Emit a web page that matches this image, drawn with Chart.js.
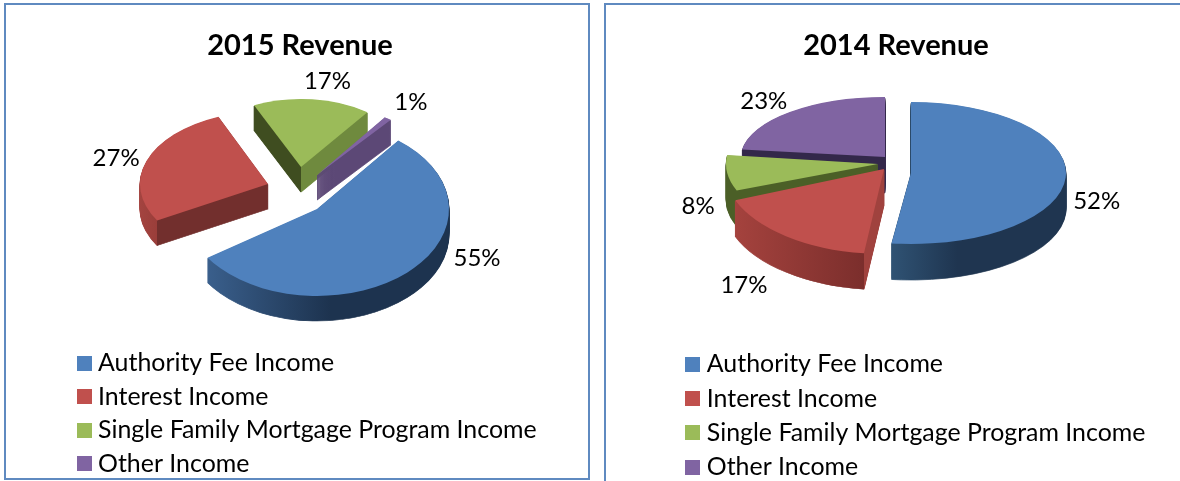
<!DOCTYPE html>
<html>
<head>
<meta charset="utf-8">
<script src="https://cdn.jsdelivr.net/npm/chart.js@4"></script>
<style>
html,body{margin:0;padding:0;background:#fff;overflow:hidden;width:1180px;height:481px}
.panel{position:absolute;box-sizing:border-box;border:2px solid #5f8ac0}
#panel1{left:4px;top:3px;width:586px;height:477px}
#panel2{left:604px;top:3px;width:600px;height:500px}
canvas{position:absolute;top:0}
#myChart1{left:0}
#myChart2{left:606px}
</style>
</head>
<body>
<div class="panel" id="panel1"></div>
<div class="panel" id="panel2"></div>
<canvas id="myChart1" width="600" height="500"></canvas>
<canvas id="myChart2" width="580" height="500"></canvas>
<script>
//DATA
const categories = ["Authority Fee Income","Interest Income","Single Family Mortgage Program Income","Other Income"];
const values2015 = [55,27,17,1];
const values2014 = [52,17,8,23];
const colors = ["#4f81bd","#c0504d","#9bbb59","#8064a2"];

//each slice: where its point sits, its radii, small turn, wall colours, and label shift from the rim
const look2015 = {
    rotation:38, depth:25, order:[2,3,1,0],
    slices:[
        {x:317,y:209,rx:132,ry:87,turn:0,lx:70,ly:-14,wall:[[0,"#3f6797"],[.55,"#1d334f"],[1,"#1d334f"]]},
        {x:268,y:184,rx:128,ry:73,turn:4,lx:-28,ly:-7,wall:[[0,"#a44440"],[.085,"#9a3e3a"],[.085,"#722f2d"],[1,"#722f2d"]]},
        {x:301,y:167,rx:112,ry:68,turn:2,lx:19,ly:-18,wall:[[0,"#3f4d20"],[.5,"#3f4d20"],[.5,"#6f8a3e"],[1,"#6f8a3e"]]},
        {x:317,y:175,rx:120,ry:70,turn:0,lx:23,ly:-16,wall:[[0,"#5c4876"],[1,"#5c4876"]]}
    ]
};
const look2014 = {
    rotation:0, depth:36, order:[3,2,1,0],
    slices:[
        {x:305,y:173,rx:155,ry:71,turn:0,lx:31,ly:24,wall:[[0,"#2f5273"],[.44,"#2f5273"],[.65,"#1f3550"],[1,"#1f3550"]]},
        {x:278,y:169,rx:160,ry:85,turn:0,lx:-42,ly:49,wall:[[0,"#a8443f"],[.4375,"#7b2e2c"],[.4375,"#a0423e"],[1,"#a0423e"]]},
        {x:272,y:164,rx:152,ry:72,turn:0,lx:-29,ly:33,wall:[[0,"#4b5f27"],[1,"#4b5f27"]]},
        {x:279,y:157,rx:144,ry:60,turn:0,lx:-26,ly:-11,wall:[[0,"#33284a"],[1,"#33284a"]]}
    ]
};

// legend square, wider than chart.js lets a plain box be next to the text
function swatch(color){
    var c = document.createElement("canvas");
    c.width = 15; c.height = 15;
    var g = c.getContext("2d");
    g.fillStyle = color;
    g.fillRect(0,0,15,15);
    return c;
}

// fake 3D: squash each arc into its own ellipse, stack dark copies under it
function pie3d(look, values){
    return {
        id:"pie3d",
        afterLayout(chart){
            // title centres on the whole canvas, not on the padded box
            chart.titleBlock.left = 0;
            chart.titleBlock.right = chart.width;
        },
        beforeDatasetDraw(chart){
            var ctx = chart.ctx;
            var arcs = chart.getDatasetMeta(0).data;
            look.order.forEach(function(i){
                var arc = arcs[i], s = look.slices[i], R = arc.outerRadius;
                var grad = ctx.createLinearGradient(arc.x-R,0,arc.x+R,0);
                s.wall.forEach(function(w){ grad.addColorStop(w[0],w[1]); });
                var wall = Object.create(arc,{options:{value:{...arc.options,backgroundColor:grad,borderColor:grad,borderWidth:R/s.rx}}});
                for(var d=look.depth;d>=0;d--){
                    ctx.save();
                    ctx.translate(s.x,s.y+d);
                    ctx.scale(s.rx/R,s.ry/R);
                    ctx.rotate(s.turn*Math.PI/180);
                    ctx.translate(-arc.x,-arc.y);
                    (d>0 ? wall : arc).draw(ctx);
                    ctx.restore();
                }
            });
            ctx.save();
            ctx.font = "24px Lato";
            ctx.fillStyle = "#000";
            ctx.textAlign = "center";
            ctx.textBaseline = "middle";
            arcs.forEach(function(arc,i){
                var s = look.slices[i], mid = (arc.startAngle+arc.endAngle)/2;
                ctx.fillText(values[i]+"%", s.x+Math.cos(mid)*s.rx+s.lx, s.y+Math.sin(mid)*s.ry+s.ly);
            });
            ctx.restore();
            return false;
        }
    };
}

function makeChart(id, title, values, look, legendLeft, legendBottom, rowGap){
    return new Chart(document.getElementById(id).getContext("2d"),{
        type:"pie",
        data:{
            labels:categories,
            datasets:[{data:values,backgroundColor:colors,borderWidth:0}]
        },
        options:{
            responsive:false,
            animation:false,
            rotation:look.rotation,
            layout:{padding:{left:legendLeft,bottom:legendBottom,top:0,right:0}},
            plugins:{
                tooltip:{enabled:false},
                title:{
                    display:true,
                    text:title,
                    color:"#000",
                    font:{family:"Lato",size:29,weight:"bold"},
                    padding:{top:28,bottom:10}
                },
                legend:{
                    position:"left",
                    align:"end",
                    maxWidth:490,
                    labels:{
                        usePointStyle:true,
                        pointStyleWidth:3,
                        boxHeight:15,
                        padding:rowGap,
                        color:"#000",
                        font:{family:"Lato",size:24.9},
                        generateLabels:function(){
                            return categories.map(function(c,i){
                                return {text:c,fillStyle:colors[i],strokeStyle:colors[i],lineWidth:0,pointStyle:swatch(colors[i]),index:i};
                            });
                        }
                    }
                }
            }
        },
        plugins:[pie3d(look,values)]
    });
}

makeChart("myChart1","2015 Revenue",values2015,look2015,74,15,8.6);
makeChart("myChart2","2014 Revenue",values2014,look2014,76,11,9.35);
</script>
</body>
</html>
